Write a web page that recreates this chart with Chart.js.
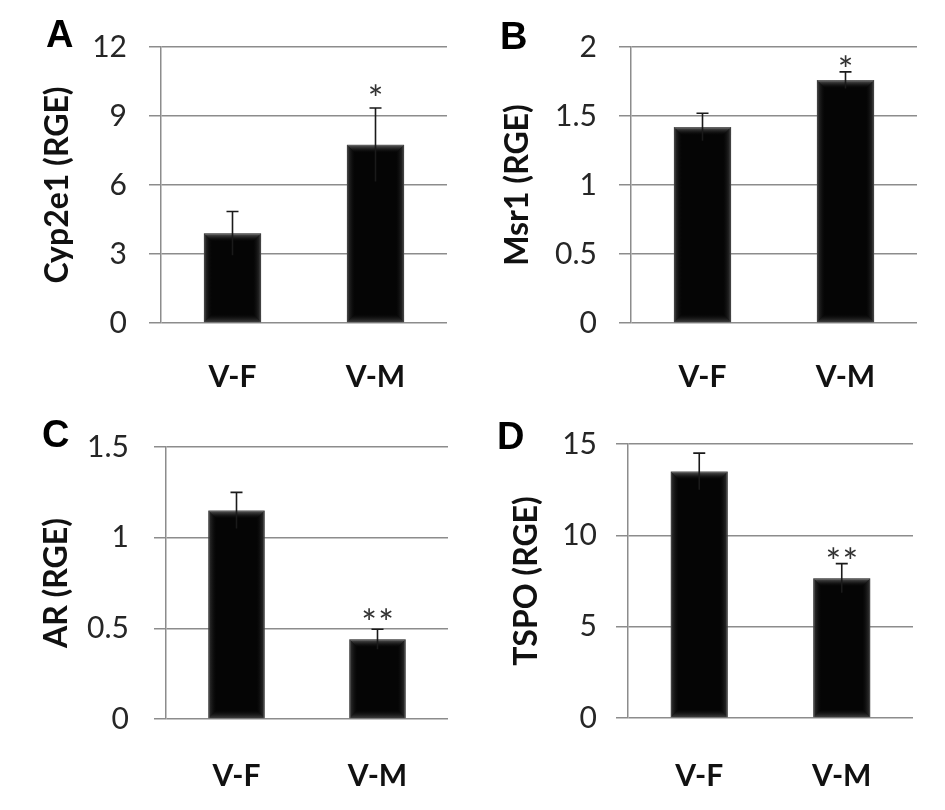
<!DOCTYPE html>
<html>
<head>
<meta charset="utf-8">
<script src="https://cdn.jsdelivr.net/npm/chart.js@4.4.1/dist/chart.umd.min.js"></script>
<style>
  html, body { margin:0; padding:0; background:#fff; }
  #wrap { position:relative; width:945px; height:810px; background:#fff; overflow:hidden; }
  .panel { position:absolute; }
  .letter { position:absolute; font-family:"Liberation Sans", Arial, sans-serif; font-weight:bold; font-size:38px; line-height:1; color:#000; }
</style>
</head>
<body>
<div id="wrap">
  <div class="panel" style="left:0px;top:0px;width:470px;height:400px"><canvas id="cA"></canvas></div>
  <div class="panel" style="left:470px;top:0px;width:475px;height:400px"><canvas id="cB"></canvas></div>
  <div class="panel" style="left:0px;top:400px;width:470px;height:410px"><canvas id="cC"></canvas></div>
  <div class="panel" style="left:470px;top:400px;width:475px;height:410px"><canvas id="cD"></canvas></div>
  <div class="letter" style="left:46px;top:15px">A</div>
  <div class="letter" style="left:500px;top:17px">B</div>
  <div class="letter" style="left:42px;top:415px">C</div>
  <div class="letter" style="left:497px;top:417px">D</div>
</div>
<script>
// ---- data ----
const categories = ["V-F", "V-M"];

const cyp2e1Values = [3.9, 7.75];
const cyp2e1Errors = [0.95, 1.6];
const cyp2e1Sig = ["", "*"];
const cyp2e1Ticks = [0, 3, 6, 9, 12];

const msr1Values = [1.42, 1.76];
const msr1Errors = [0.1, 0.06];
const msr1Sig = ["", "*"];
const msr1Ticks = [0, 0.5, 1, 1.5, 2];

const arValues = [1.15, 0.44];
const arErrors = [0.1, 0.055];
const arSig = ["", "**"];
const arTicks = [0, 0.5, 1, 1.5];

const tspoValues = [13.5, 7.65];
const tspoErrors = [1.0, 0.8];
const tspoSig = ["", "**"];
const tspoTicks = [0, 5, 10, 15];

// ---- plugins ----
const bevelPlugin = {
  id: 'bevel',
  afterDatasetsDraw(chart) {
    const ctx = chart.ctx;
    const meta = chart.getDatasetMeta(0);
    meta.data.forEach(bar => {
      const w = bar.width;
      const left = bar.x - w / 2, right = bar.x + w / 2;
      const top = bar.y, bottom = bar.base;
      const b = 8;
      ctx.save();
      let g = ctx.createLinearGradient(0, top, 0, top + b);
      g.addColorStop(0, 'rgba(110,110,110,0.9)');
      g.addColorStop(1, 'rgba(20,20,20,0.0)');
      ctx.fillStyle = g;
      ctx.beginPath();
      ctx.moveTo(left, top); ctx.lineTo(right, top);
      ctx.lineTo(right - b, top + b); ctx.lineTo(left + b, top + b);
      ctx.closePath(); ctx.fill();
      g = ctx.createLinearGradient(left, 0, left + b, 0);
      g.addColorStop(0, 'rgba(70,70,70,0.8)');
      g.addColorStop(1, 'rgba(20,20,20,0)');
      ctx.fillStyle = g;
      ctx.beginPath();
      ctx.moveTo(left, top); ctx.lineTo(left + b, top + b);
      ctx.lineTo(left + b, bottom - b); ctx.lineTo(left, bottom);
      ctx.closePath(); ctx.fill();
      g = ctx.createLinearGradient(right, 0, right - b, 0);
      g.addColorStop(0, 'rgba(70,70,70,0.8)');
      g.addColorStop(1, 'rgba(20,20,20,0)');
      ctx.fillStyle = g;
      ctx.beginPath();
      ctx.moveTo(right, top); ctx.lineTo(right - b, top + b);
      ctx.lineTo(right - b, bottom - b); ctx.lineTo(right, bottom);
      ctx.closePath(); ctx.fill();
      g = ctx.createLinearGradient(0, bottom, 0, bottom - b);
      g.addColorStop(0, 'rgba(80,80,80,0.8)');
      g.addColorStop(1, 'rgba(20,20,20,0)');
      ctx.fillStyle = g;
      ctx.beginPath();
      ctx.moveTo(left, bottom); ctx.lineTo(right, bottom);
      ctx.lineTo(right - b, bottom - b); ctx.lineTo(left + b, bottom - b);
      ctx.closePath(); ctx.fill();
      ctx.restore();
    });
  }
};

const errorBarPlugin = {
  id: 'errorBars',
  afterDatasetsDraw(chart, args, opts) {
    const ctx = chart.ctx;
    const meta = chart.getDatasetMeta(0);
    const yScale = chart.scales.y;
    const vals = chart.data.datasets[0].data;
    const errs = opts.errors || [];
    const sig = opts.sig || [];
    meta.data.forEach((bar, i) => {
      const v = vals[i], e = errs[i];
      const yTop = yScale.getPixelForValue(v + e);
      const yBot = yScale.getPixelForValue(v - e);
      const x = bar.x;
      ctx.save();
      ctx.strokeStyle = '#1a1a1a';
      ctx.lineWidth = 1.6;
      ctx.beginPath();
      ctx.moveTo(x, yBot); ctx.lineTo(x, yTop);
      ctx.moveTo(x - 6, yTop); ctx.lineTo(x + 6, yTop);
      ctx.stroke();
      if (sig[i]) {
        const fs = 37;
        ctx.fillStyle = '#333';
        ctx.font = fs + 'px Lato';
        ctx.textAlign = 'center';
        ctx.textBaseline = 'alphabetic';
        const cy = yTop - (opts.gap || 16);
        const n = sig[i].length;
        const spacing = 17;
        for (let k = 0; k < n; k++) {
          const cx = x + (k - (n - 1) / 2) * spacing;
          ctx.fillText(sig[i][k], cx, cy + 0.68 * fs);
        }
      }
      ctx.restore();
    });
  }
};

function makeChart(id, cw, ch, area, values, errors, sig, ticks, title, cfg) {
  const cv = document.getElementById(id);
  cv.width = cw; cv.height = ch;
  cv.style.width = cw + 'px'; cv.style.height = ch + 'px';
  const maxV = ticks[ticks.length - 1];
  return new Chart(cv, {
    type: 'bar',
    data: {
      labels: categories,
      datasets: [{
        data: values,
        backgroundColor: '#050505',
        borderColor: '#3c3c3c',
        borderWidth: 1.2,
        categoryPercentage: 1.0,
        barPercentage: 0.4
      }]
    },
    options: {
      responsive: false,
      animation: false,
      events: [],
      layout: { padding: { left: 0, top: area.top, right: cw - area.right, bottom: 0 } },
      plugins: {
        legend: { display: false },
        tooltip: { enabled: false },
        errorBars: { errors: errors, sig: sig, gap: cfg.gap }
      },
      scales: {
        x: {
          grid: { display: false },
          border: { display: false },
          ticks: {
            color: '#111',
            font: { family: 'Lato', weight: 'bold', size: 30 },
            padding: cfg.xPad
          },
          afterFit(s) { s.height = ch - area.bottom; }
        },
        y: {
          min: 0, max: maxV,
          afterBuildTicks(s) { s.ticks = ticks.map(v => ({ value: v })); },
          grid: { color: '#8c8c8c', lineWidth: 1.5, tickLength: cfg.tick, drawTicks: true, tickColor: '#8c8c8c' },
          border: { display: true, color: '#8c8c8c', width: 1.5 },
          ticks: {
            color: '#262626',
            font: { family: 'Lato', size: 30 },
            padding: cfg.yPad,
            callback: (v) => String(v)
          },
          title: {
            display: true,
            text: title,
            color: '#111',
            font: { family: 'Lato', weight: 'bold', size: 32 },
            padding: { top: cfg.titleX - 19.2, bottom: 0 }
          },
          afterFit(s) { s.width = area.left; }
        }
      }
    },
    plugins: [bevelPlugin, errorBarPlugin]
  });
}

makeChart('cA', 470, 400, { left: 161, right: 447, top: 47, bottom: 323 },
  cyp2e1Values, cyp2e1Errors, cyp2e1Sig, cyp2e1Ticks, 'Cyp2e1 (RGE)',
  { tick: 12, yPad: 22, xPad: 28, titleX: 58, gap: 21 });
makeChart('cB', 475, 400, { left: 161, right: 447, top: 47, bottom: 323 },
  msr1Values, msr1Errors, msr1Sig, msr1Ticks, 'Msr1 (RGE)',
  { tick: 12, yPad: 22, xPad: 28, titleX: 48, gap: 14 });
makeChart('cC', 470, 410, { left: 166, right: 448, top: 47, bottom: 319 },
  arValues, arErrors, arSig, arTicks, 'AR (RGE)',
  { tick: 12, yPad: 25, xPad: 31, titleX: 57, gap: 18 });
makeChart('cD', 475, 410, { left: 158, right: 443, top: 44, bottom: 318 },
  tspoValues, tspoErrors, tspoSig, tspoTicks, 'TSPO (RGE)',
  { tick: 12, yPad: 19, xPad: 32, titleX: 57, gap: 14 });
</script>
</body>
</html>
